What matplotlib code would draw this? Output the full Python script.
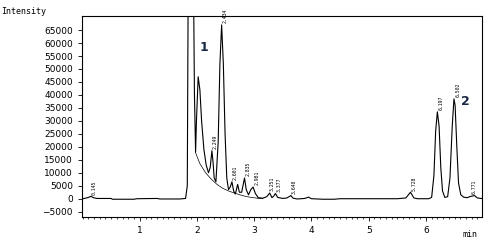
import matplotlib
matplotlib.use('Agg')
import matplotlib.pyplot as plt
from matplotlib.ticker import MultipleLocator

# chromatogram trace (min, intensity)
t = [0.00, 0.05, 0.10, 0.15, 0.19, 0.25, 0.50, 0.52, 0.90, 0.95, 1.30, 1.35, 1.70, 1.80,
     1.83, 1.845, 1.94, 1.955, 1.975, 1.99, 2.02, 2.05, 2.08, 2.12, 2.16, 2.20, 2.23,
     2.26, 2.28, 2.30, 2.33, 2.37, 2.40, 2.43, 2.46, 2.49, 2.52, 2.55, 2.58, 2.61, 2.64,
     2.67, 2.71, 2.74, 2.78, 2.83, 2.86, 2.90, 2.94, 2.98, 3.02, 3.07, 3.15, 3.22, 3.27,
     3.31, 3.34, 3.37, 3.41, 3.50, 3.57, 3.64, 3.68, 3.75, 3.88, 3.95, 4.00, 4.20, 4.40,
     4.50, 5.00, 5.50, 5.65, 5.73, 5.79, 5.85, 6.05, 6.10, 6.14, 6.17, 6.20, 6.23, 6.26,
     6.29, 6.33, 6.38, 6.42, 6.46, 6.49, 6.51, 6.54, 6.57, 6.61, 6.66, 6.72, 6.78, 6.85,
     6.90, 7.00]
intensity = [0, 200, 500, 900, 400, 100, 100, -200, -200, 0, 100, -100, -100, 100,
             5000, 80000, 80000, 40000, 18000, 30000, 47000, 42000, 30000, 19000, 13000, 10000, 12000,
             18500, 14000, 8000, 6500, 22000, 52000, 67000, 52000, 25000, 8000, 3500, 4500, 6500, 3000,
             1800, 5500, 2500, 2500, 8000, 3500, 1500, 3500, 4500, 2000, 400, 200, 800, 2200,
             400, 1000, 2000, 500, 100, 300, 1200, 200, -100, 100, 600, 0, -200, -200,
             0, 0, 0, 300, 2500, 300, 0, 0, 500, 9000, 26000, 33500, 28000, 12000,
             3000, 500, 800, 8000, 28000, 38500, 36000, 20000, 6000, 1500, 600, 400, 900, 1200,
             300, 0]

# integration baseline under the tail
base_t = [1.97, 2.05, 2.15, 2.25, 2.35, 2.45, 2.55, 2.65, 2.75, 2.85, 2.95, 3.05, 3.15]
base_i = [18000, 13500, 10000, 7500, 5500, 4000, 3000, 2200, 1500, 900, 500, 200, 0]

# peak labels
peak_t = [0.145, 2.249, 2.434, 2.601, 2.835, 2.981, 3.251, 3.377, 3.640, 5.728, 6.197, 6.502, 6.771]
peak_h = [900, 18500, 67000, 6500, 8000, 4500, 2200, 2000, 1200, 2500, 33500, 38500, 1200]
peak_lab = ['0.145', '2.249', '2.434', '2.601', '2.835', '2.981', '3.251', '3.377', '3.640',
            '5.728', '6.197', '6.502', '6.771']

fig = plt.figure(figsize=(5, 2.47), dpi=100)
ax = fig.add_axes([0.164, 0.123, 0.8, 0.812])

ax.plot(base_t, base_i, color='black', lw=0.5)
ax.plot(t, intensity, color='black', lw=0.8)

for x, h, s in zip(peak_t, peak_h, peak_lab):
    ax.text(x + 0.02, h + 600, s, rotation=90, fontsize=3.5, ha='left', va='bottom',
            family='DejaVu Sans Mono')

ax.text(2.05, 57000, '1', fontsize=9, fontweight='bold', color='#1a2a44')
ax.text(6.62, 36000, '2', fontsize=9, fontweight='bold', color='#1a2a44')

ax.set_xlim(-0.01, 6.98)
ax.set_ylim(-6900, 70400)
ax.xaxis.set_minor_locator(MultipleLocator(0.1))
ax.set_xticks([1, 2, 3, 4, 5, 6])
ax.set_yticks(range(-5000, 65001, 5000))
ax.tick_params(labelsize=6.5, length=3, width=0.6)
ax.tick_params(which='minor', length=1.5, width=0.5)
for sp in ax.spines.values():
    sp.set_linewidth(0.8)

fig.text(0.002, 0.945, 'Intensity', fontsize=6, family='DejaVu Sans Mono')
fig.text(0.925, 0.04, 'min', fontsize=6, family='DejaVu Sans Mono')

fig.savefig('out.png', dpi=100)
